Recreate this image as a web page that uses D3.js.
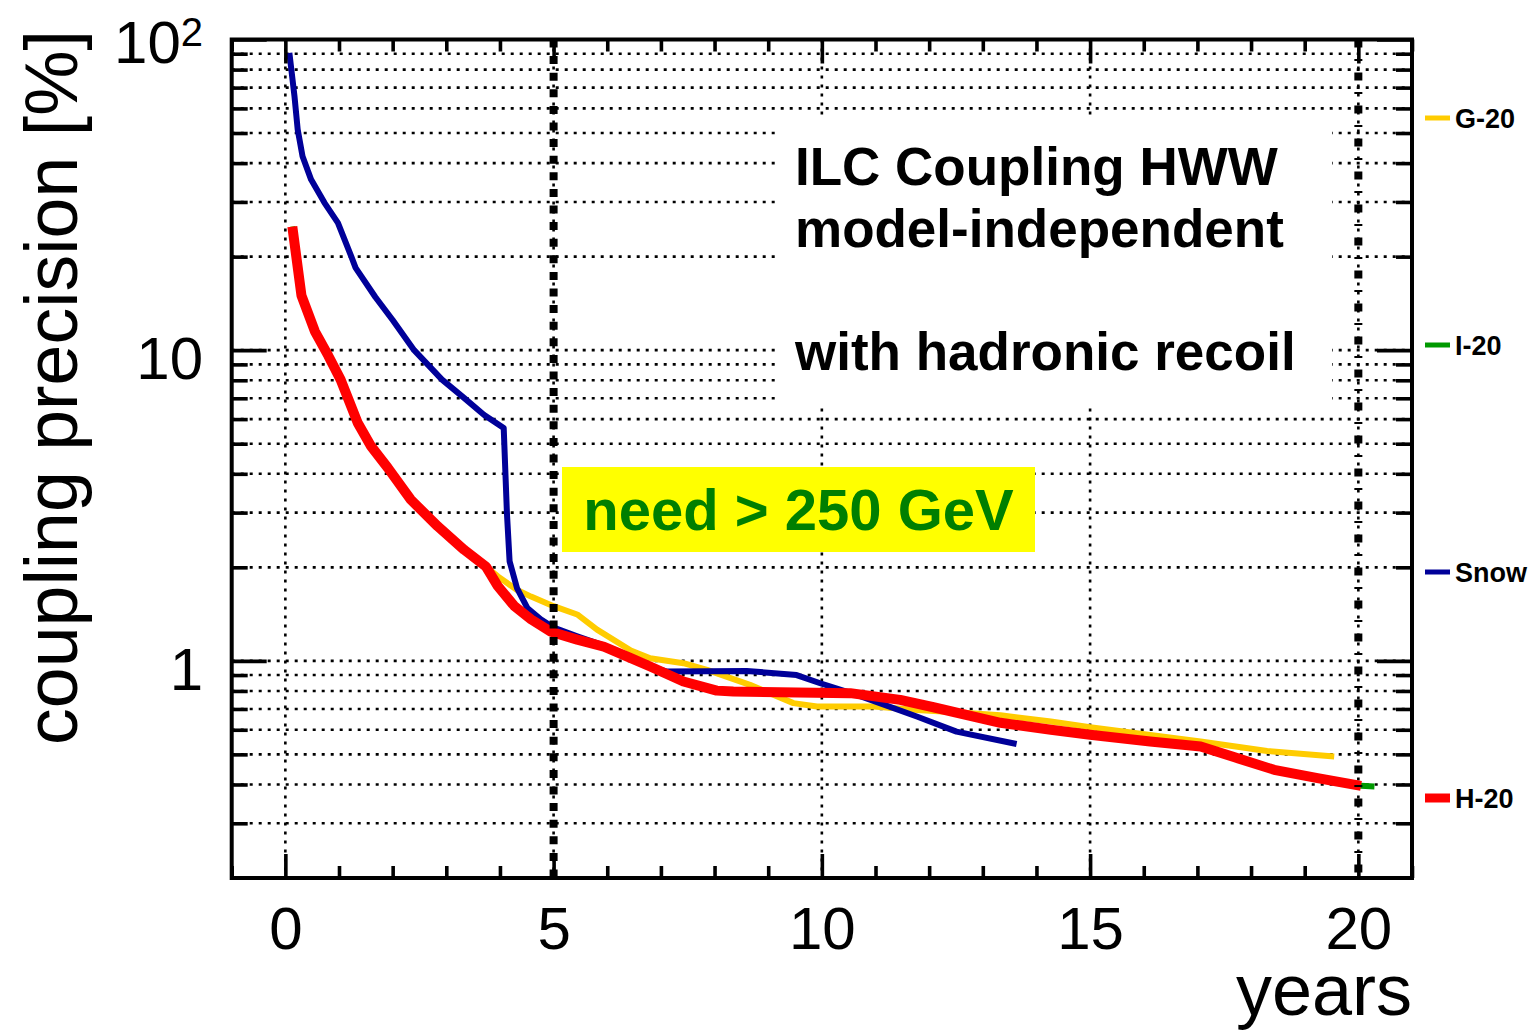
<!DOCTYPE html>
<html>
<head>
<meta charset="utf-8">
<script src="https://cdn.jsdelivr.net/npm/d3@7"></script>
<style>
  html, body { margin: 0; padding: 0; background: #fff; }
  svg { display: block; }
  text { font-family: "Liberation Sans", Arial, Helvetica, sans-serif; }
</style>
</head>
<body>
<svg id="chart" width="1537" height="1031"></svg>
<script>
// ---- data: coupling precision [%] versus running time [years] ----
const xMajorTicks = [0, 5, 10, 15, 20];
const xMinorTicks = [-1, 1, 2, 3, 4, 6, 7, 8, 9, 11, 12, 13, 14, 16, 17, 18, 19, 21];
const yMajorTicks = [1, 10, 100];
const yMinorTicks = [0.3, 0.4, 0.5, 0.6, 0.7, 0.8, 0.9, 2, 3, 4, 5, 6, 7, 8, 9, 20, 30, 40, 50, 60, 70, 80, 90];
const markerYears = [5, 20];

// G-20 running scenario
const g20 = [
  [0.13, 25], [0.3, 15], [0.55, 11.5], [0.8, 9.6], [1.03, 8.04], [1.35, 5.83], [1.6, 4.9],
  [1.91, 4.18], [2.34, 3.3], [2.84, 2.71], [3.33, 2.28], [3.74, 2.01], [3.96, 1.87],
  [4.32, 1.69], [4.58, 1.61], [5.0, 1.5], [5.44, 1.41], [5.81, 1.26], [6.44, 1.08],
  [6.8, 1.02], [7.42, 0.983], [7.86, 0.935], [8.66, 0.837], [9.47, 0.731], [9.91, 0.713],
  [10.97, 0.713], [11.78, 0.695], [12.71, 0.679], [13.33, 0.668], [14.27, 0.638],
  [15.0, 0.612], [17.06, 0.55], [18.3, 0.513], [19.55, 0.492]
];

// I-20 running scenario
const i20 = [
  [0.13, 25], [0.3, 15], [0.55, 11.5], [0.8, 9.6], [1.03, 8.04], [1.35, 5.83], [1.6, 4.9],
  [1.91, 4.18], [2.34, 3.3], [2.84, 2.71], [3.33, 2.28], [3.74, 2.01], [3.96, 1.74],
  [4.27, 1.5], [4.58, 1.36], [4.95, 1.24], [5.44, 1.17], [5.94, 1.11], [6.44, 1.02],
  [6.8, 0.959], [7.42, 0.858], [8.04, 0.802], [8.35, 0.797], [10.53, 0.787], [11.46, 0.749],
  [12.08, 0.709], [13.33, 0.632], [14.27, 0.6], [15.0, 0.578], [16.12, 0.55], [17.06, 0.53],
  [17.68, 0.49], [18.43, 0.446], [19.24, 0.419], [20.05, 0.396], [20.3, 0.394]
];

// Snowmass running scenario
const snow = [
  [0.075, 90.6], [0.17, 65.7], [0.23, 51.3], [0.32, 42.1], [0.48, 35.4], [0.73, 29.8],
  [0.98, 25.7], [1.23, 20.0], [1.31, 18.4], [1.68, 14.8], [2.0, 12.5], [2.4, 10.0],
  [2.92, 8.04], [3.33, 7.02], [3.7, 6.2], [4.07, 5.62], [4.13, 2.99], [4.18, 2.09],
  [4.32, 1.71], [4.51, 1.48], [4.76, 1.36], [5.0, 1.28], [5.44, 1.2], [5.94, 1.12],
  [6.44, 1.03], [6.8, 0.96], [7.11, 0.924], [8.6, 0.928], [9.53, 0.9], [9.97, 0.847],
  [10.65, 0.777], [11.77, 0.662], [12.51, 0.592], [13.63, 0.54]
];

// H-20 running scenario
const h20 = [
  [0.13, 25], [0.3, 15], [0.55, 11.5], [0.8, 9.6], [1.03, 8.04], [1.35, 5.83], [1.6, 4.9],
  [1.91, 4.18], [2.34, 3.3], [2.84, 2.71], [3.33, 2.28], [3.74, 2.01], [3.96, 1.74],
  [4.27, 1.5], [4.58, 1.36], [4.95, 1.24], [5.44, 1.17], [5.94, 1.11], [6.44, 1.02],
  [6.8, 0.959], [7.42, 0.858], [8.04, 0.802], [8.35, 0.797], [10.53, 0.787], [11.46, 0.749],
  [12.08, 0.709], [13.33, 0.632], [14.27, 0.6], [15.0, 0.578], [16.12, 0.55], [17.06, 0.53],
  [17.68, 0.49], [18.43, 0.446], [19.24, 0.419], [20.05, 0.396]
];

const seriesNames = ["G-20", "I-20", "Snow", "H-20"];
const seriesData = [g20, i20, snow, h20];
const seriesColors = ["#ffcc00", "#009900", "#000099", "#ff0000"];
const seriesWidths = [6, 6, 6, 10];
const drawOrder = [0, 2, 1, 3];

// ---- layout ----
const frame = { left: 231.7, right: 1412, top: 39.5, bottom: 878 };
const svg = d3.select("#chart");

const x = d3.scaleLinear().domain([-1, 21]).range([frame.left, frame.right]);
const y = d3.scaleLog().domain([0.2, 100]).range([frame.bottom, frame.top]);

const plotW = frame.right - frame.left;
const plotH = frame.bottom - frame.top;

// ---- dotted grid ----
const grid = svg.append("g").attr("stroke", "#000").attr("stroke-width", 2.6)
  .attr("stroke-dasharray", "3,6").attr("fill", "none");
grid.selectAll("line.h")
  .data(yMinorTicks.concat([1, 10]))
  .join("line").attr("class", "h")
  .attr("x1", frame.left).attr("x2", frame.right)
  .attr("y1", d => y(d)).attr("y2", d => y(d));
grid.selectAll("line.v")
  .data(xMajorTicks)
  .join("line").attr("class", "v")
  .attr("x1", d => x(d)).attr("x2", d => x(d))
  .attr("y1", frame.top).attr("y2", frame.bottom);

// white panel behind the title text
svg.append("rect")
  .attr("x", 779).attr("y", 118).attr("width", 553).attr("height", 287)
  .attr("fill", "#fff");

// yellow note box
svg.append("rect")
  .attr("x", 562).attr("y", 467).attr("width", 473).attr("height", 85)
  .attr("fill", "#ffff00");

// ---- curves ----
const clipId = "plotClip";
svg.append("clipPath").attr("id", clipId)
  .append("rect").attr("x", frame.left).attr("y", frame.top)
  .attr("width", plotW).attr("height", plotH);

const line = d3.line().x(d => x(d[0])).y(d => y(d[1]));
const curves = svg.append("g").attr("clip-path", `url(#${clipId})`);
drawOrder.forEach(i => {
  curves.append("path")
    .datum(seriesData[i])
    .attr("d", line)
    .attr("fill", "none")
    .attr("stroke", seriesColors[i])
    .attr("stroke-width", seriesWidths[i])
    .attr("stroke-linejoin", "round")
    .attr("stroke-linecap", "butt");
});

// ---- thick dash-dot markers at 5 and 20 years ----
svg.append("g").selectAll("line")
  .data(markerYears)
  .join("line")
  .attr("x1", d => x(d)).attr("x2", d => x(d))
  .attr("y1", frame.top).attr("y2", frame.bottom)
  .attr("stroke", "#000").attr("stroke-width", 8)
  .attr("stroke-dasharray", (d, i) => i === 0 ? "8,8.6" : "8,11.5,2,11.5");

// ---- axes (ticks inward on all four sides) ----
function styleAxis(g) {
  g.select(".domain").remove();
  g.selectAll(".tick line").attr("stroke", "#000").attr("stroke-width", 3.6);
  g.selectAll(".tick text").attr("fill", "#000")
    .style("font-family", '"Liberation Sans", Arial, Helvetica, sans-serif')
    .style("font-size", "60px");
}

// bottom
svg.append("g").attr("transform", `translate(0,${frame.bottom})`)
  .call(d3.axisBottom(x).tickValues(xMajorTicks).tickSize(-24).tickPadding(28).tickFormat(d3.format("d")))
  .call(styleAxis)
  .call(g => g.selectAll(".tick text").attr("dy", "0.71em"));
svg.append("g").attr("transform", `translate(0,${frame.bottom})`)
  .call(d3.axisBottom(x).tickValues(xMinorTicks).tickSize(-12).tickFormat(""))
  .call(styleAxis);
// top
svg.append("g").attr("transform", `translate(0,${frame.top})`)
  .call(d3.axisTop(x).tickValues(xMajorTicks).tickSize(-24).tickFormat(""))
  .call(styleAxis);
svg.append("g").attr("transform", `translate(0,${frame.top})`)
  .call(d3.axisTop(x).tickValues(xMinorTicks).tickSize(-12).tickFormat(""))
  .call(styleAxis);
// left
svg.append("g").attr("transform", `translate(${frame.left},0)`)
  .call(d3.axisLeft(y).tickValues(yMajorTicks).tickSize(-35).tickPadding(28.7)
    .tickFormat(d => d === 100 ? "" : String(d)))
  .call(styleAxis)
  .call(g => g.selectAll(".tick text").attr("dy", "0.48em"))
  .call(g => {
    const top = g.selectAll(".tick").filter(d => d === 100).select("text");
    top.attr("dy", "0.38em");
    top.append("tspan").text("10");
    top.append("tspan").text("2").attr("dy", "-0.42em").style("font-size", "40px");
  });
svg.append("g").attr("transform", `translate(${frame.left},0)`)
  .call(d3.axisLeft(y).tickValues(yMinorTicks).tickSize(-16).tickFormat(""))
  .call(styleAxis);
// right
svg.append("g").attr("transform", `translate(${frame.right},0)`)
  .call(d3.axisRight(y).tickValues(yMajorTicks).tickSize(-35).tickFormat(""))
  .call(styleAxis);
svg.append("g").attr("transform", `translate(${frame.right},0)`)
  .call(d3.axisRight(y).tickValues(yMinorTicks).tickSize(-16).tickFormat(""))
  .call(styleAxis);

// frame
svg.append("rect")
  .attr("x", frame.left).attr("y", frame.top)
  .attr("width", plotW).attr("height", plotH)
  .attr("fill", "none").attr("stroke", "#000").attr("stroke-width", 4);

// ---- axis titles ----
svg.append("text")
  .attr("x", frame.right).attr("y", 1015)
  .attr("text-anchor", "end")
  .style("font-size", "72px")
  .text("years");

svg.append("text")
  .attr("transform", "translate(77,30) rotate(-90)")
  .attr("text-anchor", "end")
  .style("font-size", "73.5px")
  .text("coupling precision [%]");

// ---- annotations ----
const titleLines = ["ILC Coupling HWW", "model-independent", "with hadronic recoil"];
const titleBaselines = [185, 247, 370];
svg.append("g").selectAll("text")
  .data(titleLines)
  .join("text")
  .attr("x", 795)
  .attr("y", (d, i) => titleBaselines[i])
  .style("font-size", "53px").style("font-weight", "bold")
  .text(d => d);

svg.append("text")
  .attr("x", 798.5).attr("y", 530)
  .attr("text-anchor", "middle")
  .attr("fill", "#007f00")
  .style("font-size", "58px").style("font-weight", "bold")
  .text("need > 250 GeV");

// ---- legend ----
const legendY = [118, 345, 572, 798];
const legend = svg.append("g").selectAll("g")
  .data(seriesNames)
  .join("g")
  .attr("transform", (d, i) => `translate(1425,${legendY[i]})`);
legend.append("line")
  .attr("x1", 0).attr("x2", 25).attr("y1", 0).attr("y2", 0)
  .attr("stroke", (d, i) => seriesColors[i])
  .attr("stroke-width", (d, i) => seriesWidths[i] - 1);
legend.append("text")
  .attr("x", 30).attr("y", 9.5)
  .style("font-size", "27px").style("font-weight", "bold")
  .text(d => d);
</script>
</body>
</html>
